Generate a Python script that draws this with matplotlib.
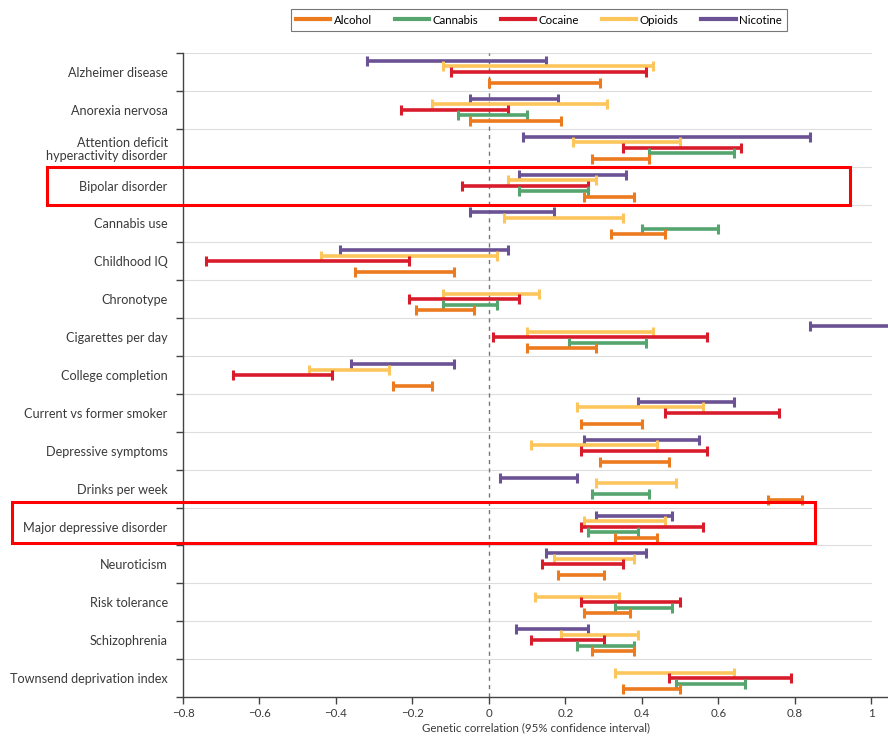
import matplotlib
matplotlib.use('Agg')
import matplotlib.pyplot as plt
from matplotlib.patches import Rectangle
from matplotlib.lines import Line2D

plt.rcParams['font.family'] = ['Lato', 'DejaVu Sans']

traits = ['Alzheimer disease', 'Anorexia nervosa',
          'Attention deficit\nhyperactivity disorder', 'Bipolar disorder',
          'Cannabis use', 'Childhood IQ', 'Chronotype', 'Cigarettes per day',
          'College completion', 'Current vs former smoker',
          'Depressive symptoms', 'Drinks per week', 'Major depressive disorder',
          'Neuroticism', 'Risk tolerance', 'Schizophrenia',
          'Townsend deprivation index']

# 95% CI (low, high) per trait, None where not reported
nicotine = [(-0.32, 0.15), (-0.05, 0.18), (0.09, 0.84), (0.08, 0.36),
            (-0.05, 0.17), (-0.39, 0.05), None, (0.84, 1.10),
            (-0.36, -0.09), (0.39, 0.64), (0.25, 0.55), (0.03, 0.23),
            (0.28, 0.48), (0.15, 0.41), None, (0.07, 0.26), None]
opioids = [(-0.12, 0.43), (-0.15, 0.31), (0.22, 0.50), (0.05, 0.28),
           (0.04, 0.35), (-0.44, 0.02), (-0.12, 0.13), (0.10, 0.43),
           (-0.47, -0.26), (0.23, 0.56), (0.11, 0.44), (0.28, 0.49),
           (0.25, 0.46), (0.17, 0.38), (0.12, 0.34), (0.19, 0.39),
           (0.33, 0.64)]
cocaine = [(-0.10, 0.41), (-0.23, 0.05), (0.35, 0.66), (-0.07, 0.26),
           None, (-0.74, -0.21), (-0.21, 0.08), (0.01, 0.57),
           (-0.67, -0.41), (0.46, 0.76), (0.24, 0.57), None,
           (0.24, 0.56), (0.14, 0.35), (0.24, 0.50), (0.11, 0.30),
           (0.47, 0.79)]
cannabis = [None, (-0.08, 0.10), (0.42, 0.64), (0.08, 0.26),
            (0.40, 0.60), None, (-0.12, 0.02), (0.21, 0.41),
            None, None, None, (0.27, 0.42),
            (0.26, 0.39), None, (0.33, 0.48), (0.23, 0.38),
            (0.49, 0.67)]
alcohol = [(0.00, 0.29), (-0.05, 0.19), (0.27, 0.42), (0.25, 0.38),
           (0.32, 0.46), (-0.35, -0.09), (-0.19, -0.04), (0.10, 0.28),
           (-0.25, -0.15), (0.24, 0.40), (0.29, 0.47), (0.73, 0.82),
           (0.33, 0.44), (0.18, 0.30), (0.25, 0.37), (0.27, 0.38),
           (0.35, 0.50)]

series = [('Nicotine', nicotine, '#6a5294'),
          ('Opioids', opioids, '#fdc65c'),
          ('Cocaine', cocaine, '#d91c2c'),
          ('Cannabis', cannabis, '#56a56f'),
          ('Alcohol', alcohol, '#ec7a1f')]

fig = plt.figure(figsize=(8.88, 7.36), dpi=100)
ax = fig.add_axes([183 / 888, 1 - 697 / 736, 705 / 888, 644 / 736])

n = len(traits)
ax.set_xlim(-0.8, 1.044)
ax.set_ylim(n, 0)

# row separators
for b in range(n):
    ax.plot([-0.8, 1.0], [b, b], color='#dddddd', lw=0.8, zorder=0)
ax.axvline(0, color='#777777', lw=1, ls=(0, (3, 3)), zorder=1)

step = 0.145
for k, (name, vals, col) in enumerate(series):
    off = (k - 2) * step
    for i, v in enumerate(vals):
        if v is None:
            continue
        y = i + 0.5 + off
        ax.plot([v[0], v[1]], [y, y], color=col, lw=2.6,
                solid_capstyle='butt', zorder=3)
        ax.plot([v[0], v[1]], [y, y], ls='none', marker='|', ms=7,
                mew=2.2, color=col, zorder=3)

ax.set_yticks([i + 0.5 for i in range(n)])
ax.set_yticklabels(traits, fontsize=9.1, color='#3a3a3a', linespacing=1.1)
ax.tick_params(axis='y', length=0, pad=11)
ax.set_yticks(range(n + 1), minor=True)
ax.tick_params(axis='y', which='minor', length=5, width=1, color='#444444')

ax.set_xticks([-0.8, -0.6, -0.4, -0.2, 0, 0.2, 0.4, 0.6, 0.8, 1])
ax.set_xticklabels(['−0.8', '−0.6', '−0.4', '−0.2', '0', '0.2', '0.4',
                    '0.6', '0.8', '1'], fontsize=8.3, color='#3a3a3a')
ax.tick_params(axis='x', length=5, width=1, color='#444444', pad=3)
ax.set_xlabel('Genetic correlation (95% confidence interval)', fontsize=8.3,
              color='#3a3a3a', labelpad=2)

for s in ['top', 'right']:
    ax.spines[s].set_visible(False)
for s in ['left', 'bottom']:
    ax.spines[s].set_color('#444444')
    ax.spines[s].set_linewidth(1)

handles = [Line2D([], [], color=c, lw=3) for _, _, c in series[::-1]]
labels = [nm for nm, _, _ in series[::-1]]
leg = fig.legend(handles, labels, ncol=5, loc='center',
                 bbox_to_anchor=(539 / 888, 1 - 20 / 736), fontsize=8.3,
                 frameon=True, fancybox=False, edgecolor='#555555',
                 handlelength=3.0, handletextpad=0.3, columnspacing=1.95,
                 borderpad=0.45)
leg.get_frame().set_linewidth(0.8)

# highlight boxes
for x0, y0, x1, y1 in [(47, 167, 850, 205), (12, 502, 815, 543)]:
    fig.add_artist(Rectangle((x0 / 888, 1 - y1 / 736), (x1 - x0) / 888,
                             (y1 - y0) / 736, transform=fig.transFigure,
                             fill=False, edgecolor='#ff0000', lw=2.2,
                             zorder=10))

fig.savefig('out.png', dpi=100, facecolor='white')
